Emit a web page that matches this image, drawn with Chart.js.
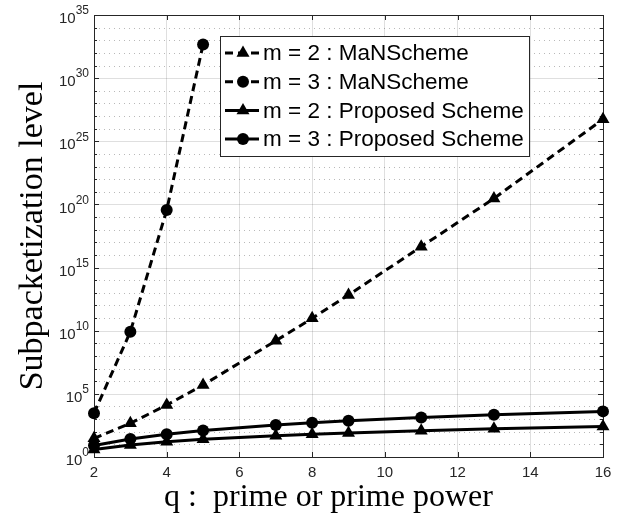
<!DOCTYPE html>
<html><head><meta charset="utf-8">
<script src="https://cdn.jsdelivr.net/npm/chart.js@4/dist/chart.umd.min.js"></script>
<style>html,body{margin:0;padding:0;background:#fff}#wrap{width:621px;height:521px}</style>
</head><body><div id="wrap"><canvas id="c" width="621" height="521"></canvas></div>
<script>
// ---- data ----
const qValues = [2, 3, 4, 5, 7, 8, 9, 11, 13, 16];
const qValuesMaN3 = [2, 3, 4, 5];
const manSchemeM2 = [30, 470, 1.3e4, 5e5, 1.6e9, 9.5e10, 6.8e12, 4.5e16, 3e20, 5.5e26];
const manSchemeM3 = [2.9e3, 8.3e9, 3.6e19, 4.7e32];
const proposedM2 = [4, 9, 16, 25, 49, 64, 81, 121, 169, 256];
const proposedM3 = [8, 27, 64, 125, 343, 512, 729, 1331, 2197, 4096];
const seriesLabels = ['m = 2 : MaNScheme', 'm = 3 : MaNScheme', 'm = 2 : Proposed Scheme', 'm = 3 : Proposed Scheme'];
const xTickValues = [2, 4, 6, 8, 10, 12, 14, 16];
const yLabelExponents = [0, 5, 10, 15, 20, 25, 30, 35];
const yDecadeExponents = [0,1,2,3,4,5,6,7,8,9,10,11,12,13,14,15,16,17,18,19,20,21,22,23,24,25,26,27,28,29,30,31,32,33,34,35];
const xTitle = 'q :  prime or prime power';
const yTitle = 'Subpacketization level';

const pts = (xs, ys) => xs.map((x, i) => ({x: x, y: ys[i]}));
const AXIS = '#262626';
const GRID = 'rgba(38,38,38,0.15)';

const styles = [
  {dash: [8, 5], pointStyle: 'triangle', radius: 7.5},
  {dash: [8, 5], pointStyle: 'circle', radius: 6},
  {dash: [], pointStyle: 'triangle', radius: 7.5},
  {dash: [], pointStyle: 'circle', radius: 6}
];
const seriesData = [pts(qValues, manSchemeM2), pts(qValuesMaN3, manSchemeM3), pts(qValues, proposedM2), pts(qValues, proposedM3)];

const datasets = seriesLabels.map((lab, i) => ({
  label: lab,
  data: seriesData[i],
  borderColor: '#000',
  backgroundColor: '#000',
  borderWidth: 3,
  borderDash: styles[i].dash,
  pointStyle: styles[i].pointStyle,
  pointRadius: styles[i].radius,
  pointHoverRadius: styles[i].radius,
  pointBorderWidth: 0,
  pointBackgroundColor: '#000',
  tension: 0,
  clip: false
}));

function drawMarker(ctx, style, r, x, y) {
  ctx.save();
  ctx.fillStyle = '#000';
  ctx.setLineDash([]);
  ctx.beginPath();
  if (style === 'circle') {
    ctx.arc(x, y, r, 0, Math.PI * 2);
  } else {
    const edge = 3 * r / Math.sqrt(3);
    const h = edge * Math.sqrt(3) / 2;
    ctx.moveTo(x - edge / 2, y + h / 3);
    ctx.lineTo(x + edge / 2, y + h / 3);
    ctx.lineTo(x, y - 2 * h / 3);
    ctx.closePath();
  }
  ctx.fill();
  ctx.restore();
}

const axesPlugin = {
  id: 'axesPlugin',
  beforeDatasetsDraw(chart) {
    const ctx = chart.ctx, a = chart.chartArea, ys = chart.scales.y, xs = chart.scales.x;
    ctx.save();
    yDecadeExponents.forEach(e => {
      const py = Math.round(ys.getPixelForValue(Math.pow(10, e))) + 0.5;
      if (e === 0 || e === 35) return;
      ctx.beginPath();
      if (e % 5 === 0) { ctx.setLineDash([]); ctx.strokeStyle = GRID; }
      else { ctx.setLineDash([1, 4]); ctx.strokeStyle = 'rgba(38,38,38,0.32)'; }
      ctx.lineWidth = 1;
      ctx.moveTo(a.left, py); ctx.lineTo(a.right, py); ctx.stroke();
    });
    ctx.setLineDash([]);
    ctx.strokeStyle = AXIS; ctx.lineWidth = 1;
    ctx.strokeRect(Math.round(a.left) + 0.5, Math.round(a.top) + 0.5, Math.round(a.right - a.left), Math.round(a.bottom - a.top));
    yDecadeExponents.forEach(e => {
      const py = Math.round(ys.getPixelForValue(Math.pow(10, e))) + 0.5;
      const len = e % 5 === 0 ? 5 : 3;
      ctx.beginPath();
      ctx.moveTo(a.left, py); ctx.lineTo(a.left + len, py);
      ctx.moveTo(a.right, py); ctx.lineTo(a.right - len, py);
      ctx.stroke();
    });
    xTickValues.forEach(v => {
      const px = Math.round(xs.getPixelForValue(v)) + 0.5;
      ctx.beginPath();
      ctx.moveTo(px, a.bottom); ctx.lineTo(px, a.bottom - 5);
      ctx.moveTo(px, a.top); ctx.lineTo(px, a.top + 5);
      ctx.stroke();
    });
    ctx.fillStyle = AXIS;
    ctx.textBaseline = 'middle';
    yLabelExponents.forEach(e => {
      const py = ys.getPixelForValue(Math.pow(10, e));
      const exp = String(e);
      ctx.font = '12px "Liberation Sans", Arial, sans-serif';
      const w2 = ctx.measureText(exp).width;
      const right = a.left - 5;
      ctx.textAlign = 'left';
      ctx.fillText(exp, right - w2, py - 4);
      ctx.font = '15px "Liberation Sans", Arial, sans-serif';
      ctx.textAlign = 'right';
      ctx.fillText('10', right - w2, py + 4);
    });
    ctx.restore();
  },
  afterDatasetsDraw(chart) {
    const ctx = chart.ctx, a = chart.chartArea;
    const L = a.left + 126, T = a.top + 21, W = 309, H = 120;
    ctx.save();
    ctx.fillStyle = '#fff';
    ctx.fillRect(L, T, W, H);
    ctx.strokeStyle = AXIS; ctx.lineWidth = 1;
    ctx.strokeRect(Math.round(L) + 0.5, Math.round(T) + 0.5, W, H);
    chart.data.datasets.forEach((ds, i) => {
      const y = T + 17 + i * 28.7;
      ctx.beginPath();
      ctx.setLineDash(ds.borderDash);
      ctx.strokeStyle = '#000'; ctx.lineWidth = 3;
      ctx.moveTo(L + 5, y); ctx.lineTo(L + 39, y); ctx.stroke();
      ctx.setLineDash([]);
      drawMarker(ctx, ds.pointStyle, ds.pointRadius, L + 23, y);
      ctx.fillStyle = '#000';
      ctx.font = '22.5px "Liberation Sans", Arial, sans-serif';
      ctx.textAlign = 'left'; ctx.textBaseline = 'middle';
      ctx.fillText(ds.label, L + 43, y + 1);
    });
    ctx.restore();
  }
};

new Chart(document.getElementById('c'), {
  type: 'line',
  data: {datasets: datasets},
  options: {
    responsive: false,
    devicePixelRatio: 1,
    animation: false,
    events: [],
    layout: {padding: {left: 0, right: 18, top: 15, bottom: 0}},
    plugins: {legend: {display: false}, tooltip: {enabled: false}},
    scales: {
      x: {
        type: 'linear', min: 2, max: 16,
        afterBuildTicks: s => { s.ticks = xTickValues.map(v => ({value: v})); },
        afterFit: s => { s.height = 64; },
        grid: {color: GRID, drawTicks: false, lineWidth: 1},
        border: {display: false},
        ticks: {color: AXIS, padding: 7, font: {family: '"Liberation Sans", Arial, sans-serif', size: 15}, maxRotation: 0},
        title: {display: true, text: xTitle + '\u00a0\u00a0\u00a0\u00a0\u00a0', color: '#000', font: {family: '"Liberation Serif", serif', size: 32}, padding: {top: 4, bottom: 4}}
      },
      y: {
        type: 'logarithmic', min: 1, max: 1e35,
        afterBuildTicks: s => { s.ticks = yDecadeExponents.map(e => ({value: Math.pow(10, e)})); },
        afterFit: s => { s.width = 94; },
        grid: {display: false},
        border: {display: false},
        ticks: {display: false},
        title: {display: true, text: yTitle, color: '#000', font: {family: '"Liberation Serif", serif', size: 34}, padding: {top: 13, bottom: 13}}
      }
    }
  },
  plugins: [axesPlugin]
});
</script>
</body></html>
